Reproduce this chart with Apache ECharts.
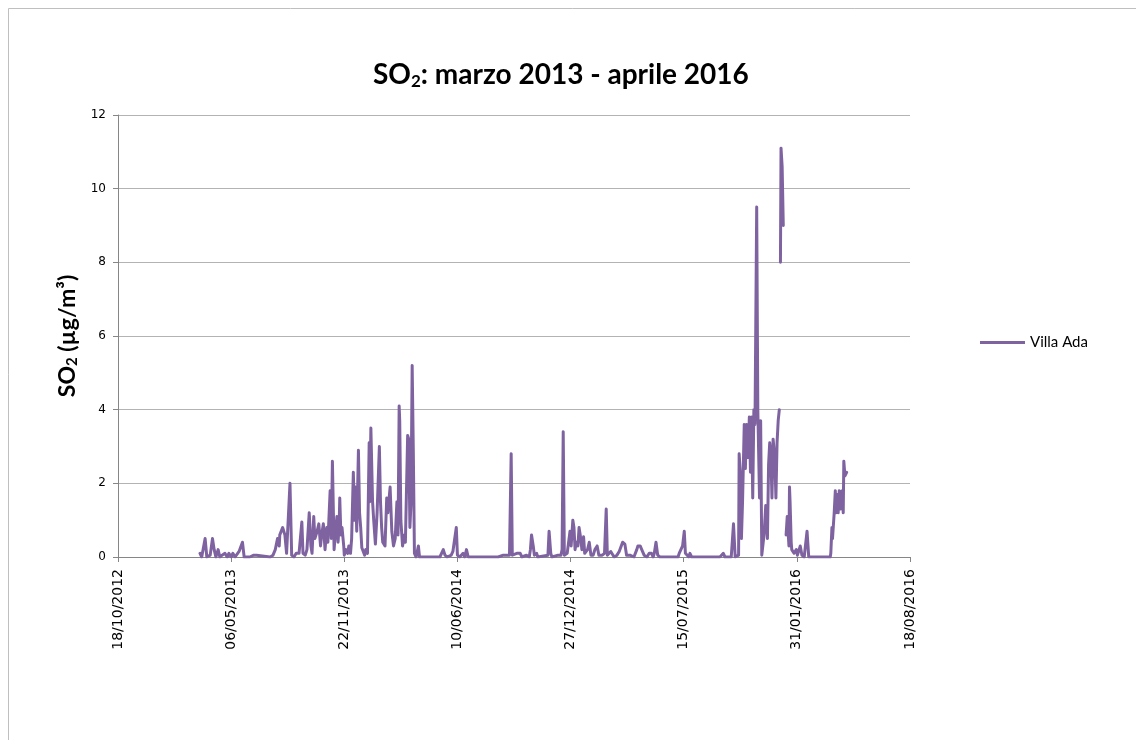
<!DOCTYPE html>
<html>
<head>
<meta charset="utf-8">
<script src="https://cdn.jsdelivr.net/npm/echarts@6/dist/echarts.min.js"></script>
<style>
html,body{margin:0;padding:0;background:#fff;}
#c{width:1136px;height:740px;}
</style>
</head>
<body>
<div id="c"></div>
<script>
// Axis range (dates) and tick labels
const axisStart = '2012-10-18';
const axisEnd = '2016-08-18';
const tickLabels = ['18/10/2012','06/05/2013','22/11/2013','10/06/2014','27/12/2014','15/07/2015','31/01/2016','18/08/2016'];
const seriesName = 'Villa Ada';

// Daily SO2 readings (µg/m³), Villa Ada; null = missing data
const dates = [
'2013-03-12','2013-03-15','2013-03-21','2013-03-24','2013-03-30','2013-04-03','2013-04-06','2013-04-09','2013-04-13','2013-04-16',
'2013-04-20','2013-04-25','2013-04-29','2013-05-02','2013-05-06','2013-05-09','2013-05-13','2013-05-16','2013-05-20','2013-05-23',
'2013-05-26','2013-05-29','2013-06-08','2013-06-15','2013-06-20','2013-06-22','2013-07-14','2013-07-19','2013-07-23','2013-07-27',
'2013-07-30','2013-07-31','2013-08-05','2013-08-09','2013-08-12','2013-08-15','2013-08-18','2013-08-21','2013-08-25','2013-08-29',
'2013-09-01','2013-09-03','2013-09-08','2013-09-10','2013-09-14','2013-09-17','2013-09-21','2013-09-24','2013-09-26','2013-09-29',
'2013-10-01','2013-10-05','2013-10-08','2013-10-11','2013-10-13','2013-10-16','2013-10-19','2013-10-22','2013-10-24','2013-10-28',
'2013-10-30','2013-11-01','2013-11-04','2013-11-06','2013-11-09','2013-11-11','2013-11-13','2013-11-14','2013-11-16','2013-11-18',
'2013-11-21','2013-11-22','2013-11-25','2013-11-28','2013-11-30','2013-12-03','2013-12-05','2013-12-08','2013-12-10','2013-12-12',
'2013-12-14','2013-12-17','2013-12-19','2013-12-21','2013-12-23','2013-12-25','2013-12-28','2013-12-30','2014-01-02','2014-01-05',
'2014-01-06','2014-01-08','2014-01-11','2014-01-13','2014-01-16','2014-01-19','2014-01-23','2014-01-25','2014-01-27','2014-01-29',
'2014-02-02','2014-02-05','2014-02-07','2014-02-11','2014-02-14','2014-02-17','2014-02-20','2014-02-23','2014-02-25','2014-02-27',
'2014-02-28','2014-03-02','2014-03-05','2014-03-08','2014-03-10','2014-03-14','2014-03-16','2014-03-18','2014-03-20','2014-03-22',
'2014-03-24','2014-03-26','2014-03-29','2014-03-31','2014-04-02','2014-04-04','2014-04-28','2014-05-01','2014-05-04','2014-05-07',
'2014-05-10','2014-05-16','2014-05-19','2014-05-23','2014-05-30','2014-06-02','2014-06-04','2014-06-08','2014-06-10','2014-06-14',
'2014-06-20','2014-06-23','2014-06-26','2014-06-29','2014-08-17','2014-08-18','2014-08-21','2014-08-30','2014-09-02','2014-09-10',
'2014-09-13','2014-09-15','2014-09-18','2014-09-23','2014-09-25','2014-09-29','2014-10-02','2014-10-10','2014-10-15','2014-10-17',
'2014-10-19','2014-10-22','2014-10-24','2014-10-28','2014-10-30','2014-11-17','2014-11-19','2014-11-22','2014-11-24','2014-12-05',
'2014-12-07','2014-12-10','2014-12-12','2014-12-14','2014-12-16','2014-12-19','2014-12-21','2014-12-24','2014-12-26','2014-12-28',
'2014-12-31','2015-01-02','2015-01-04','2015-01-06','2015-01-09','2015-01-11','2015-01-14','2015-01-16','2015-01-19','2015-01-21',
'2015-01-23','2015-01-26','2015-01-29','2015-02-01','2015-02-05','2015-02-08','2015-02-12','2015-02-15','2015-02-21','2015-02-25',
'2015-02-28','2015-03-02','2015-03-05','2015-03-08','2015-03-10','2015-03-14','2015-03-19','2015-03-23','2015-03-26','2015-03-29',
'2015-04-02','2015-04-05','2015-04-11','2015-04-18','2015-04-23','2015-04-25','2015-04-29','2015-05-02','2015-05-06','2015-05-11',
'2015-05-15','2015-05-19','2015-05-22','2015-05-24','2015-05-27','2015-05-30','2015-06-03','2015-07-05','2015-07-07','2015-07-10',
'2015-07-13','2015-07-16','2015-07-18','2015-07-21','2015-07-24','2015-07-26','2015-07-29','2015-09-17','2015-09-19','2015-09-23',
'2015-09-26','2015-10-07','2015-10-11','2015-10-14','2015-10-20','2015-10-21','2015-10-23','2015-10-25','2015-10-27','2015-10-30',
'2015-11-01','2015-11-03','2015-11-06','2015-11-08','2015-11-10','2015-11-12','2015-11-14','2015-11-16','2015-11-18','2015-11-21',
'2015-11-23','2015-11-26','2015-11-28','2015-11-30','2015-12-02','2015-12-04','2015-12-07','2015-12-10','2015-12-12','2015-12-14',
'2015-12-16','2015-12-18','2015-12-20','2015-12-23','2015-12-25','2015-12-27','2015-12-29','2015-12-31','2016-01-01','2016-01-02',
'2016-01-03','2016-01-05','2016-01-07','2016-01-09','2016-01-12','2016-01-14','2016-01-17','2016-01-18','2016-01-19','2016-01-21',
'2016-01-22','2016-01-26','2016-01-30','2016-02-01','2016-02-06','2016-02-09','2016-02-13','2016-02-15','2016-02-18','2016-02-21',
'2016-03-30','2016-03-31','2016-04-02','2016-04-03','2016-04-06','2016-04-08','2016-04-09','2016-04-12','2016-04-13','2016-04-15',
'2016-04-17','2016-04-20','2016-04-22','2016-04-23','2016-04-25','2016-04-28'
];
const villaAda = [
0.1,0,0.5,0,0.05,0.5,0.2,0,0.2,0,
0.05,0.1,0,0.1,0,0.1,0,0.05,0.15,0.1,
0.4,0,0,0.05,0.05,0,0,0.05,0.2,0.5,
0.3,0.6,0.8,0.6,0.1,0.05,2.0,0.05,0,0.1,
0.05,0.1,0.95,0.1,0.05,0.2,1.2,0.3,0.1,1.1,
0.5,0.7,0.9,0.3,0.6,0.9,0.2,0.8,0.4,1.8,
0.5,2.6,0.2,0.6,1.1,0.4,0.9,1.6,0.6,0.8,
0.3,0.05,0.2,0.1,0.3,0.1,0.5,2.3,1.0,1.9,
0.7,2.9,1.2,0.8,0.25,0.3,0.05,0.2,0.1,3.1,
1.5,3.5,1.5,1.0,0.35,1.2,3.0,1.5,0.8,0.4,
0.3,1.6,1.2,1.9,0.7,0.3,0.5,1.5,0.6,4.1,
3.7,1.0,0.3,0.6,0.4,3.3,3.2,0.8,1.5,5.2,
2.9,0.1,0,0.05,0.3,0,0,0.05,0,0.05,
0,0.2,0.05,0,0.05,0.15,0.1,0.8,0.05,0,
0.1,0,0.2,0,0,0.05,0,0.05,0,0.05,
2.8,0.05,0.05,0.1,0.05,0.1,0,0.05,0,0.2,
0.6,0.3,0.05,0.1,0,0.05,0.7,0.1,0,0.05,
0.1,0.05,0.2,3.4,0.05,0,0.1,0.1,0.7,0.3,
1.0,0.8,0.2,0.4,0.3,0.8,0.5,0.2,0.55,0.1,
0.05,0.2,0.4,0.05,0.05,0.2,0.3,0.05,0.05,0.1,
1.3,0.05,0,0.15,0.1,0,0.05,0.15,0.2,0.4,
0.35,0.05,0.05,0,0.2,0.3,0.3,0.3,0.05,0,
0.1,0.1,0,0.1,0.4,0.05,0,0,0.1,0.2,
0.3,0.7,0.1,0.05,0,0.1,0,0,0.05,0.1,
0,0,0.9,0,0.05,2.8,2.3,0.5,1.5,3.6,
2.4,3.6,2.7,3.8,2.3,3.8,1.6,4.0,3.6,9.5,
4.0,1.6,3.7,0.05,0.05,0.6,1.4,0.5,2.5,3.1,
2.8,1.6,3.2,2.7,1.6,3.1,3.7,4.0,null,8.0,
11.1,10.6,9.0,null,0.6,1.1,0.3,1.9,1.5,0.4,
0.2,0.1,0.2,0.05,0.3,0.05,0,0.05,0.7,0,
0,0.1,0.8,0.5,1.2,1.8,1.2,1.7,1.2,1.8,
1.3,1.8,1.2,2.6,2.2,2.3
];

const DAY = 86400000;
function toMs(s){const p=s.split('-');return Date.UTC(+p[0],+p[1]-1,+p[2]);}
const t0 = toMs(axisStart);
function dayIndex(s){return Math.round((toMs(s)-t0)/DAY);}
function fmt(d){const dt=new Date(t0+d*DAY);const dd=String(dt.getUTCDate()).padStart(2,'0');const mm=String(dt.getUTCMonth()+1).padStart(2,'0');return dd+'/'+mm+'/'+dt.getUTCFullYear();}
const tickDays = tickLabels.map(l=>{const p=l.split('/');return dayIndex(p[2]+'-'+p[1]+'-'+p[0]);});

const seriesData = dates.map((d,i)=>[dayIndex(d), villaAda[i]==null?'-':villaAda[i]]);

const FONT = 'Lato, Liberation Sans, sans-serif';
const chart = echarts.init(document.getElementById('c'), null, {renderer:'canvas'});
chart.setOption({
  animation:false,
  backgroundColor:'#ffffff',
  title:{
    text:'{a|SO}{s|2}{a|: marzo 2013 - aprile 2016}',
    left:368, top:55,
    textStyle:{rich:{
      a:{fontFamily:FONT,fontWeight:'bold',fontSize:28,color:'#000'},
      s:{fontFamily:FONT,fontWeight:'bold',fontSize:17,color:'#000',padding:[13,0,0,0]}
    }}
  },
  legend:{
    show:true,
    left:975, top:330,
    itemWidth:45, itemHeight:3,
    icon:'rect',
    data:[seriesName],
    textStyle:{fontFamily:FONT,fontSize:15,color:'#000'}
  },
  graphic:[{
    type:'rect', silent:true, z:-1,
    shape:{x:8.5,y:8.5,width:1200,height:800},
    style:{fill:'none',stroke:'#bfbfbf',lineWidth:1}
  }],
  grid:{left:118,right:226,top:115,bottom:183,containLabel:false},
  xAxis:{
    type:'value', min:tickDays[0], max:tickDays[tickDays.length-1], interval:tickDays[1]-tickDays[0],
    splitLine:{show:false},
    axisLine:{show:true,lineStyle:{color:'#868686',width:1}},
    axisTick:{show:true,length:5,lineStyle:{color:'#868686'}},
    axisLabel:{rotate:90,margin:12,fontFamily:'DejaVu Sans',fontSize:14,color:'#000',formatter:v=>fmt(v)}
  },
  yAxis:{
    type:'value', min:0, max:12, interval:2,
    name:'{a|SO}{s|2}{a| (µg/m³)}',
    nameLocation:'middle', nameGap:38, nameRotate:90,
    nameTextStyle:{rich:{
      a:{fontFamily:FONT,fontWeight:'bold',fontSize:23,color:'#000'},
      s:{fontFamily:FONT,fontWeight:'bold',fontSize:15,color:'#000',padding:[10,0,0,0]}
    }},
    splitLine:{show:true,lineStyle:{color:'#b3b3b3',width:1}},
    axisLine:{show:true,lineStyle:{color:'#868686',width:1}},
    axisTick:{show:true,length:5,lineStyle:{color:'#868686'}},
    axisLabel:{margin:12,fontFamily:'DejaVu Sans',fontSize:12,color:'#000'}
  },
  series:[{
    name:seriesName,
    type:'line',
    data:seriesData,
    showSymbol:false, symbol:'none',
    connectNulls:false,
    color:'#7F63A1',
    lineStyle:{width:3,color:'#7F63A1',cap:'round',join:'round'}
  }]
});
</script>
</body>
</html>
